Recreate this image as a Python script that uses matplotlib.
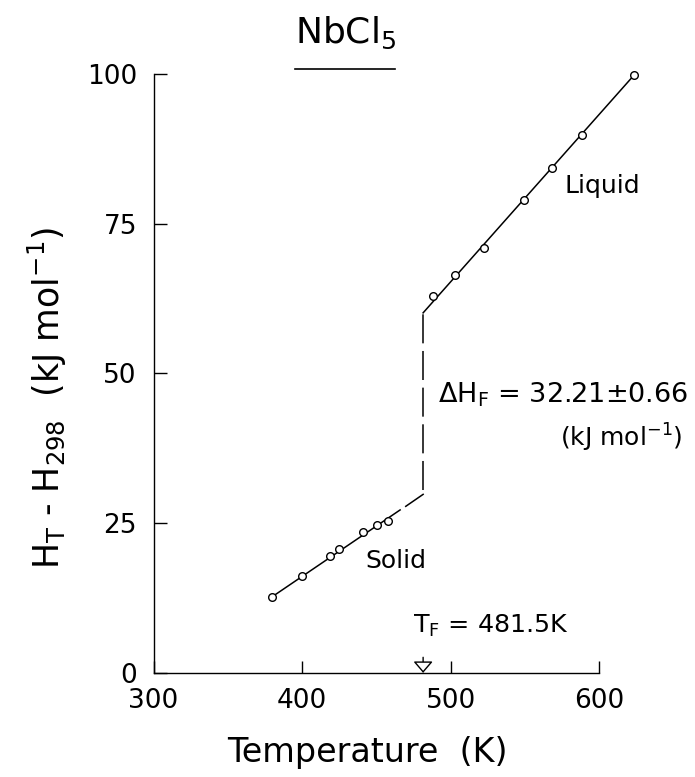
import matplotlib
matplotlib.use("Agg")
import matplotlib.pyplot as plt
from matplotlib.lines import Line2D

plt.rcParams['font.family'] = 'DejaVu Sans'
plt.rcParams['mathtext.default'] = 'regular'

# measured points (K, kJ/mol)
solid_T = [379.8, 400.0, 418.7, 424.9, 441.1, 450.6, 458.0]
solid_H = [12.7, 16.2, 19.5, 20.7, 23.5, 24.7, 25.4]
liquid_T = [488.1, 502.9, 522.5, 549.4, 568.1, 588.8, 623.6]
liquid_H = [62.9, 66.4, 70.9, 79.0, 84.3, 89.8, 99.8]

# fitted lines
solid_fit_T = [379.8, 466.0]
solid_fit_H = [12.7, 27.2]
solid_tail_T = [469.8, 481.5]
solid_tail_H = [27.8, 29.8]
liquid_fit_T = [481.5, 623.6]
liquid_fit_H = [60.1, 99.8]
T_fusion = 481.5
jump_H = [30.6, 60.1]

xticks = [300, 400, 500, 600]
yticks = [0, 25, 50, 75, 100]

fig = plt.figure(figsize=(6.95, 7.77), dpi=100)
ax = fig.add_axes([0.221, 0.134, 0.641, 0.771])

ax.plot(solid_fit_T, solid_fit_H, color='black', lw=1.1)
ax.plot(solid_tail_T, solid_tail_H, color='black', lw=1.1)
ax.plot(liquid_fit_T, liquid_fit_H, color='black', lw=1.1, clip_on=False)
ax.plot([T_fusion, T_fusion], jump_H, color='black', lw=1.1,
        linestyle=(0, (19, 5)))
ax.plot(solid_T, solid_H, 'o', ms=5.5, mfc='white', mec='black', mew=1.0, zorder=3)
ax.plot(liquid_T, liquid_H, 'o', ms=5.5, mfc='white', mec='black', mew=1.0,
        clip_on=False, zorder=3)

ax.set_xlim(300, 600)
ax.set_ylim(0, 100)
ax.set_xticks(xticks)
ax.set_yticks(yticks)
ax.spines['top'].set_visible(False)
ax.spines['right'].set_visible(False)
ax.spines['left'].set_linewidth(1.0)
ax.spines['bottom'].set_linewidth(1.0)
ax.tick_params(axis='both', direction='in', length=9, width=1.0, labelsize=19)
ax.tick_params(axis='y', pad=12)
ax.tick_params(axis='x', pad=11)
for line in ax.get_xticklines():
    line.set_clip_on(False)

ax.set_xlabel('Temperature  (K)', fontsize=24)
ax.xaxis.set_label_coords(0.479, -0.105)
ax.set_ylabel(r'H$_T$ - H$_{298}$  (kJ mol$^{-1}$)', fontsize=25)
ax.yaxis.set_label_coords(-0.19, 0.459)

ax.text(577, 80.1, 'Liquid', fontsize=18, va='baseline')
ax.text(442.4, 17.5, 'Solid', fontsize=18, va='baseline')
ax.text(491.6, 45.1, r'$\Delta$H$_F$ = 32.21$\pm$0.66', fontsize=19.5, va='baseline')
ax.text(573.7, 37.7, r'(kJ mol$^{-1}$)', fontsize=18, va='baseline')
ax.text(474.7, 6.7, r'T$_F$ = 481.5K', fontsize=18.3, va='baseline')

# open-headed arrow marking the melting point
ax.annotate('', xy=(T_fusion, 0), xytext=(T_fusion, 2.6),
            arrowprops=dict(arrowstyle='-|>,head_length=0.35,head_width=0.3',
                            fc='white', ec='black', lw=1.0,
                            mutation_scale=20, shrinkA=0, shrinkB=0))

fig.text(0.424, 0.945, r'NbCl$_5$', fontsize=26, va='baseline')
fig.add_artist(Line2D([0.424, 0.568], [0.911, 0.911], color='black', lw=1.2,
                      transform=fig.transFigure))

fig.savefig('out.png', dpi=100)
